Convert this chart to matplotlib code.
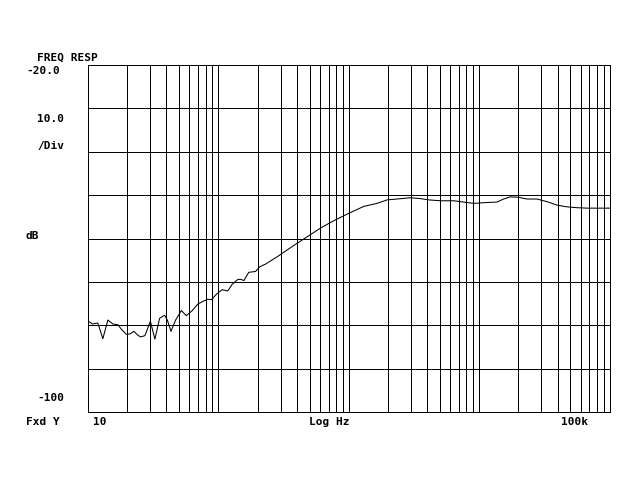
import numpy as np
import matplotlib
matplotlib.use("Agg")
import matplotlib.pyplot as plt
from matplotlib.ticker import LogLocator, MultipleLocator, NullFormatter

# trace: frequency (Hz) and level (dB)
freq = [10, 10.8, 11.9, 13.0, 14.2, 15.5, 17.0, 18.0, 19.7, 21.0,
        22.5, 23.9, 25.3, 27.3, 30.1, 32.6, 35.4, 38.7, 40.6, 43.3,
        47.0, 52.0, 56.8, 63.1, 69.7, 76.1, 82.6, 88.7, 96.9, 107,
        118, 128, 140, 148, 157, 171, 193, 208, 230, 283,
        379, 480, 607, 767, 1000, 1303, 1651, 1968, 2349, 2970,
        3542, 4101, 5044, 6377, 7603, 9077, 11490, 13710, 15410, 17340,
        20080, 23280, 27780, 33130, 39540, 47170, 56240, 67120, 100000]
level = [-79.0, -79.7, -79.5, -83.1, -78.8, -79.7, -79.9, -80.9, -82.1, -82.0,
         -81.4, -82.2, -82.7, -82.4, -79.1, -83.2, -78.4, -77.7, -78.8, -81.4,
         -78.8, -76.6, -77.8, -76.6, -75.1, -74.5, -74.0, -74.1, -72.8, -71.8,
         -72.1, -70.5, -69.5, -69.4, -69.7, -67.8, -67.6, -66.5, -65.9, -64.2,
         -61.6, -59.6, -57.6, -55.9, -54.2, -52.6, -51.9, -51.1, -50.9, -50.6,
         -50.8, -51.1, -51.3, -51.3, -51.6, -51.9, -51.7, -51.6, -50.9, -50.4,
         -50.5, -50.9, -50.9, -51.5, -52.3, -52.7, -52.9, -53.0, -53.0]

y_top, y_bottom = -20, -100

fig = plt.figure(figsize=(6.4, 4.8), dpi=100)
ax = fig.add_axes([88 / 640, 1 - 412 / 480, (609.5 - 88) / 640, (412 - 65) / 480])

ax.plot(freq, level, color="black", lw=0.75)
ax.set_xscale("log")
ax.set_xlim(10, 100000)
ax.set_ylim(y_bottom, y_top)

ax.xaxis.set_major_locator(LogLocator(base=10, subs=np.arange(1, 10)))
ax.xaxis.set_minor_locator(LogLocator(base=10, subs=[]))
ax.yaxis.set_major_locator(MultipleLocator(10))
ax.xaxis.set_major_formatter(NullFormatter())
ax.xaxis.set_minor_formatter(NullFormatter())
ax.yaxis.set_major_formatter(NullFormatter())
ax.tick_params(which="both", length=0)
# screen dump look: hard 1px grid
ax.grid(True, which="major", color="black", lw=0.7, antialiased=False)
for s in ax.spines.values():
    s.set_linewidth(0.7)
    s.set_antialiased(False)

font = dict(family="DejaVu Sans Mono", fontweight="bold", fontsize=8)

def label(x, y, s, ha="left"):
    fig.text(x / 640, 1 - y / 480, s, ha=ha, va="center", **font)

label(37, 58, "FREQ RESP")
label(26, 71, "-20.0")
label(37, 119, "10.0")
label(37, 146, "/Div")
label(26, 236, "dB")
label(37, 398, "-100")
label(26, 422, "Fxd Y")
label(93, 422, "10")
label(329, 422, "Log Hz", ha="center")
label(574, 422, "100k", ha="center")

fig.savefig("out.png", dpi=100)
